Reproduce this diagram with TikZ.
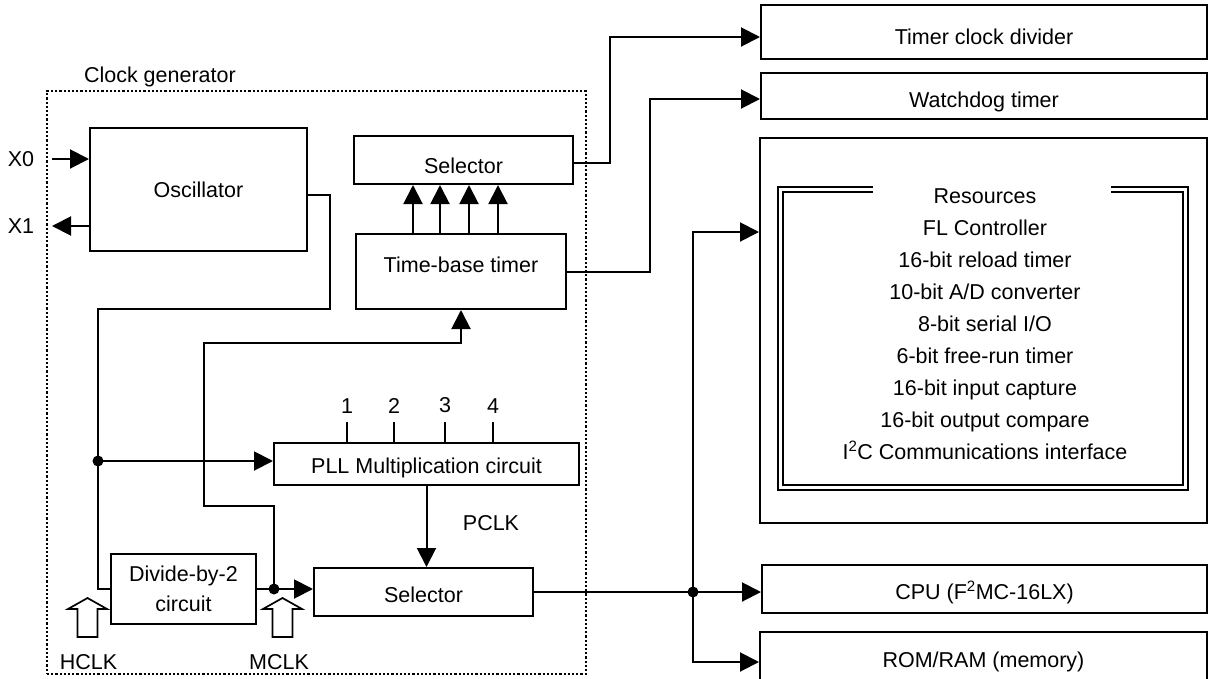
\documentclass[tikz,border=0pt]{standalone}
\usepackage{fontspec}
\setmainfont{Liberation Sans}
\usetikzlibrary{arrows.meta}

\begin{document}
\begin{tikzpicture}[x=1pt, y=-1pt,
                    font=\fontsize{21.5}{26}\selectfont,
                    line width=2pt,
                    blk/.style={draw, inner sep=0pt},
                    wire/.style={line width=2pt},
                    arr/.style={wire, -{Triangle[length=19pt,width=19pt]}},
                    hollow/.style={draw, line width=1.7pt, line join=miter},
                    dbl/.style={double, line width=1.6pt, double distance=3pt}]
    \useasboundingbox (0,0) rectangle (1208,678);
    \clip (0,0) rectangle (1208,678);

    % clock generator
    \node[draw, dotted, line width=2.2pt, minimum width=539pt, minimum height=583pt] (cg) at (316.5,382.5) {};
    \node[anchor=west, inner sep=0pt] (cglabel) at (83,77) {Clock generator};

    \node[blk, minimum width=217pt, minimum height=123pt] (osc) at (198.5,189.5) {Oscillator};
    \node[blk, minimum width=219pt, minimum height=48pt, text height=27pt, text depth=0pt] (tsel) at (463.5,160) {Selector};
    \node[blk, minimum width=210pt, minimum height=75pt, text height=15.5pt, text depth=13pt] (tbt) at (461,271.5) {Time-base timer};
    \node[blk, minimum width=305pt, minimum height=42pt, text height=19.5pt, text depth=0pt] (pll) at (426.5,464) {PLL Multiplication circuit};
    \node[blk, minimum width=145pt, minimum height=70pt, align=center,
          font=\fontsize{21.5}{30}\selectfont] (div) at (183.5,589) {Divide-by-2\\circuit};
    \node[blk, minimum width=219pt, minimum height=48pt, text height=21.5pt, text depth=0pt] (msel) at (423.5,592) {Selector};

    % peripherals
    \node[blk, minimum width=446pt, minimum height=54pt, text height=25.5pt, text depth=0pt] (tcd) at (984,32) {Timer clock divider};
    \node[blk, minimum width=446pt, minimum height=46pt, text height=23pt, text depth=0pt] (wdt) at (984,96) {Watchdog timer};
    \node[blk, minimum width=447pt, minimum height=385pt] (res) at (983.5,330.5) {};
    \node[align=center, font=\fontsize{21.5}{32}\selectfont] (reslist) at (985,324)
        {Resources\\FL Controller\\16-bit reload timer\\10-bit A/D converter\\8-bit serial I/O\\
         6-bit free-run timer\\16-bit input capture\\16-bit output compare\\
         I\textsuperscript{2}C Communications interface};
    \draw[dbl] (873,189.5) -| (780.5,487.5) -| (1185.5,189.5) -- (1111,189.5);
    \node[blk, minimum width=445pt, minimum height=48pt, text height=20pt, text depth=0pt] (cpu) at (984.5,589) {CPU (F\textsuperscript{2}MC-16LX)};
    \node[blk, minimum width=447pt, minimum height=60pt] (mem) at (983.5,662) {ROM/RAM (memory)};

    % oscillator pins
    \coordinate (x0) at (52,159);
    \coordinate (x1) at (52,226);
    \node (lx0) at (21,159) {X0};
    \node (lx1) at (21,226) {X1};
    \draw[arr] (x0) -- (x0 -| osc.west);
    \draw[arr] (x1 -| osc.west) -- (x1);

    \coordinate (hj) at (98,461);
    \coordinate (mj) at (274,589);
    \coordinate (bj) at (693,592);
    \coordinate (resin) at (res.west |- 0,232);

    \draw[wire] ([yshift=-5.5pt]osc.east) -| (330,309) -| (hj) |- (div.west);
    \draw[arr] (hj) -- (hj -| pll.west);
    \fill (hj) circle (5.5pt);
    \draw[wire] (div.east) -- (mj);
    \draw[arr] (mj) -- (mj -| msel.west);
    \draw[arr] (mj) -- (274,506) -| (204,343) -| (tbt.south);
    \fill (mj) circle (5.5pt);

    \foreach \dx in {-48,-21,8,37}
        \draw[arr] ([xshift=\dx pt]tbt.north) -- ([xshift=\dx pt]tbt.north |- tsel.south);

    \foreach \dx/\n in {-79.5/1,-32.5/2,18.5/3,66.5/4}
        \draw[wire] ([xshift=\dx pt]pll.north) -- ++(0,-20) node[above=8pt, inner sep=0pt] (m\n) {\n};

    \draw[arr] (pll.south) -- (pll.south |- msel.north);
    \node (pclk) at (491,523) {PCLK};

    % outputs
    \draw[arr] ([yshift=-3pt]tsel.east) -| (610,37) -- ([yshift=-5pt]tcd.west);
    \draw[arr] (tbt.east) -| (650,99) -- ([yshift=-3pt]wdt.west);
    \draw[wire] (msel.east) -- (bj);
    \draw[arr] (bj) -- (bj -| cpu.west);
    \draw[arr] (bj) |- (resin);
    \draw[arr] (bj) |- (mem.west);
    \fill (bj) circle (5.5pt);

    % clock inputs
    \coordinate (hclk) at (87.5,637);
    \coordinate (mclk) at (282.5,637);
    \foreach \c in {hclk,mclk}
        \draw[hollow] (\c) ++(-10,0) -- ++(0,-28) -- ++(-9.5,0) -- ++(19.5,-11)
            -- ++(19.5,11) -- ++(-9.5,0) -- ++(0,28) -- cycle;
    \node (lhclk) at (88.5,662) {HCLK};
    \node (lmclk) at (279,662) {MCLK};
\end{tikzpicture}
\end{document}
